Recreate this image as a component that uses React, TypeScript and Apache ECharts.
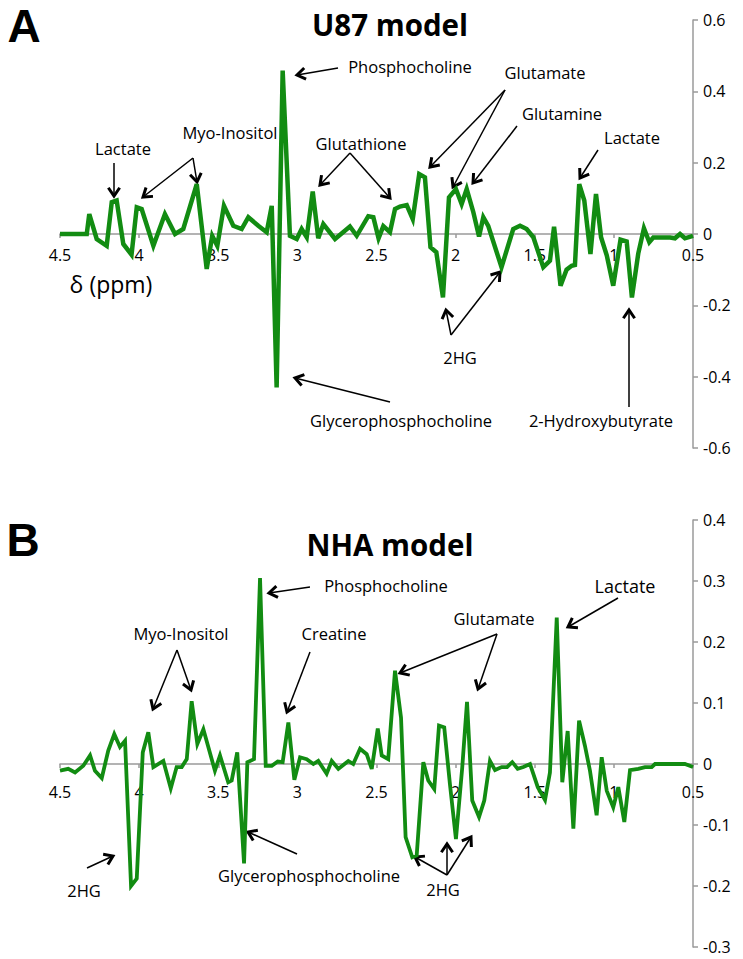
import React, { useEffect, useRef } from "react";
import * as echarts from "echarts";

// ---- Data (chemical shift in ppm, loading values) ----
const ppmA = [4.5,4.331,4.315,4.268,4.205,4.173,4.142,4.1,4.048,4.015,3.984,3.91,3.837,3.773,3.721,3.636,3.573,3.538,3.506,3.464,3.405,3.352,3.31,3.247,3.194,3.162,3.131,3.093,3.047,3.004,2.973,2.941,2.903,2.868,2.836,2.762,2.668,2.625,2.552,2.52,2.487,2.457,2.415,2.383,2.352,2.309,2.271,2.23,2.194,2.159,2.122,2.08,2.042,1.998,1.962,1.93,1.888,1.852,1.825,1.794,1.71,1.636,1.593,1.551,1.509,1.446,1.404,1.378,1.337,1.299,1.267,1.246,1.219,1.187,1.148,1.113,1.081,1.045,1.004,0.958,0.919,0.886,0.846,0.81,0.776,0.751,0.645,0.614,0.582,0.551,0.5];
const u87Values = [0,0,0.056,-0.014,-0.033,0.089,0.094,-0.028,-0.058,0.075,0.07,-0.033,0.056,0,0.014,0.14,-0.098,-0.005,-0.033,0.079,0.023,0.014,0.047,0.023,0.005,0.079,-0.43,0.458,-0.005,-0.014,0.014,-0.009,0.119,-0.012,0.028,-0.014,0.021,-0.005,0.05,0.047,-0.012,0.022,0.005,0.07,0.077,0.081,0.042,0.168,0.159,-0.037,-0.051,-0.178,0.103,0.126,0.084,0.126,0.061,-0.007,0.047,0.023,-0.093,0.014,0.023,0.014,-0.009,-0.093,-0.075,0.02,-0.145,-0.1,-0.089,-0.087,0.14,0.094,-0.056,0.112,-0.009,-0.06,-0.145,-0.016,-0.021,-0.178,-0.055,0.016,-0.023,-0.01,-0.01,-0.012,0,-0.012,-0.005];

const ppmB = [4.5,4.448,4.405,4.353,4.31,4.279,4.236,4.195,4.157,4.121,4.089,4.051,4.015,3.977,3.942,3.91,3.847,3.8,3.763,3.731,3.699,3.668,3.632,3.594,3.521,3.489,3.437,3.415,3.38,3.337,3.316,3.274,3.236,3.2,3.162,3.124,3.093,3.057,3.019,2.983,2.941,2.899,2.868,2.815,2.783,2.741,2.678,2.647,2.604,2.562,2.53,2.492,2.467,2.426,2.383,2.345,2.316,2.274,2.246,2.204,2.173,2.135,2.105,2.072,2.036,1.998,1.958,1.928,1.895,1.852,1.819,1.783,1.751,1.709,1.675,1.642,1.608,1.572,1.53,1.481,1.435,1.404,1.361,1.326,1.292,1.256,1.22,1.183,1.151,1.109,1.077,1.045,1.004,0.972,0.934,0.898,0.846,0.803,0.761,0.74,0.677,0.551,0.5];
const nhaValues = [-0.011,-0.008,-0.014,-0.003,0.014,-0.011,-0.023,0.022,0.049,0.028,0.038,-0.2,-0.188,0.019,0.052,-0.005,0.005,-0.04,-0.005,-0.005,0.008,0.103,0.033,0.057,-0.011,0.014,-0.03,-0.027,0.019,-0.163,0.003,0.008,0.305,-0.003,-0.003,0.004,0.003,0.068,-0.026,0.011,0.008,0,0.005,-0.016,0.005,-0.008,0.005,0,0.025,0.016,-0.008,0.058,0.014,0.008,0.153,0.076,-0.12,-0.153,-0.15,0.003,-0.027,-0.041,0.063,0.06,-0.033,-0.123,-0.005,0.102,-0.06,-0.087,-0.06,0.005,-0.01,-0.005,-0.005,0.003,-0.008,-0.005,0,-0.038,-0.059,-0.014,0.24,-0.03,0.054,-0.106,0.071,0.03,-0.011,-0.084,0.011,-0.044,-0.071,-0.038,-0.095,-0.01,-0.008,-0.005,-0.005,0,0,0,-0.005];

const yRangeA = [-0.6, 0.6, 0.2];
const yRangeB = [-0.3, 0.4, 0.1];
const xRange = [0.5, 4.5, 0.5];

const FONT = '"Open Sans", "DejaVu Sans", sans-serif';
const GREEN = "#128c12";
const GRID_A = { top: 20, height: 428 };
const GRID_B = { top: 520, height: 427 };

function arrow(x1: number, y1: number, x2: number, y2: number) {
  const dx = x2 - x1, dy = y2 - y1;
  const len = Math.hypot(dx, dy);
  const bx = -dx / len, by = -dy / len;
  const L = 10, a = 0.6;
  const c = Math.cos(a), s = Math.sin(a);
  const p1 = [x2 + L * (bx * c - by * s), y2 + L * (bx * s + by * c)];
  const p2 = [x2 + L * (bx * c + by * s), y2 + L * (-bx * s + by * c)];
  return [
    { type: "line", silent: true, shape: { x1, y1, x2, y2 }, style: { stroke: "#000", lineWidth: 1.5 } },
    { type: "polyline", silent: true, shape: { points: [p1, [x2, y2], p2] }, style: { stroke: "#000", lineWidth: 3, fill: null } },
  ];
}

function label(text: string, x: number, y: number, size = 16.5, weight = "normal", family = FONT) {
  return {
    type: "text",
    silent: true,
    x,
    y,
    style: {
      text, fontSize: size, fontWeight: weight, fontFamily: family, fill: "#000",
      align: "center", verticalAlign: "middle",
    },
  };
}

export default function App() {
  const ref = useRef<HTMLDivElement>(null);
  useEffect(() => {
    if (!ref.current) return;
    const chart = echarts.init(ref.current, undefined, { renderer: "svg" });

    // place the x axis on the zero line of each panel
    const zeroOffset = (g: { height: number }, r: number[]) => -g.height * (0 - r[0]) / (r[1] - r[0]);

    const xAxisCommon = {
      type: "value",
      min: xRange[0],
      max: xRange[1],
      interval: xRange[2],
      inverse: true,
      position: "bottom",
      axisLine: { onZero: false, lineStyle: { color: "#9a9a9a", width: 1.5 } },
      axisTick: { show: true, length: 4, lineStyle: { color: "#9a9a9a", width: 1.5 } },
      axisLabel: { color: "#000", fontSize: 16, fontFamily: FONT, margin: 13, showMinLabel: true, showMaxLabel: true },
      splitLine: { show: false },
    };
    const yAxisCommon = {
      type: "value",
      position: "right",
      axisLine: { show: true, onZero: false, lineStyle: { color: "#9a9a9a", width: 1.5 } },
      axisTick: { show: true, length: 5, lineStyle: { color: "#9a9a9a", width: 1.5 } },
      axisLabel: { color: "#000", fontSize: 16, fontFamily: FONT, margin: 10 },
      splitLine: { show: false },
    };

    const graphics: any[] = [
      label("A", 24, 26, 46, "bold", '"Liberation Sans", Arial, sans-serif'),
      label("B", 23, 540, 46, "bold", '"Liberation Sans", Arial, sans-serif'),
      label("U87 model", 390, 24, 29.5, "bold"),
      label("NHA model", 390, 544, 29.5, "bold"),
      label("δ (ppm)", 111, 284, 23),
      // Panel A annotations
      label("Phosphocholine", 410, 66),
      ...arrow(338, 68, 297, 75),
      label("Glutamate", 545, 72),
      ...arrow(505, 90, 430, 167),
      ...arrow(505, 90, 453, 187),
      label("Glutamine", 562, 113),
      ...arrow(517, 126, 473, 183),
      label("Lactate", 632, 137),
      ...arrow(598, 150, 580, 178),
      label("Glutathione", 361, 143),
      ...arrow(350, 153, 320, 185),
      ...arrow(350, 153, 390, 198),
      label("Myo-Inositol", 230, 132),
      ...arrow(193, 158, 143, 197),
      ...arrow(193, 158, 197, 182),
      label("Lactate", 123, 148),
      ...arrow(114, 163, 114, 196),
      label("2HG", 460, 357),
      ...arrow(451, 335, 446, 310),
      ...arrow(451, 335, 500, 272),
      label("Glycerophosphocholine", 401, 420),
      ...arrow(390, 402, 295, 378),
      label("2-Hydroxybutyrate", 601, 420),
      ...arrow(629, 407, 629, 310),
      // Panel B annotations
      label("Phosphocholine", 386, 585),
      ...arrow(310, 587, 269, 593),
      label("Myo-Inositol", 181, 633),
      ...arrow(177, 650, 153, 709),
      ...arrow(177, 650, 191, 690),
      label("Creatine", 334, 633),
      ...arrow(310, 652, 287, 712),
      label("Glutamate", 494, 618),
      ...arrow(497, 634, 400, 673),
      ...arrow(497, 634, 478, 689),
      label("Lactate", 625, 586, 18),
      ...arrow(618, 598, 568, 627),
      label("2HG", 84, 890),
      ...arrow(87, 868, 113, 856),
      label("Glycerophosphocholine", 309, 875),
      ...arrow(297, 854, 248, 832),
      label("2HG", 443, 889),
      ...arrow(447, 875, 415, 857),
      ...arrow(447, 875, 447, 844),
      ...arrow(447, 875, 471, 837),
    ];

    chart.setOption({
      animation: false,
      backgroundColor: "#fff",
      textStyle: { fontFamily: FONT },
      grid: [
        { left: 60, right: 50, top: GRID_A.top, height: GRID_A.height, containLabel: false },
        { left: 60, right: 50, top: GRID_B.top, height: GRID_B.height, containLabel: false },
      ],
      xAxis: [
        { ...xAxisCommon, gridIndex: 0, offset: zeroOffset(GRID_A, yRangeA) },
        { ...xAxisCommon, gridIndex: 1, offset: zeroOffset(GRID_B, yRangeB), axisLabel: { ...xAxisCommon.axisLabel, margin: 20 } },
      ],
      yAxis: [
        { ...yAxisCommon, gridIndex: 0, min: yRangeA[0], max: yRangeA[1], interval: yRangeA[2] },
        { ...yAxisCommon, gridIndex: 1, min: yRangeB[0], max: yRangeB[1], interval: yRangeB[2] },
      ],
      series: [
        {
          name: "U87",
          type: "line",
          xAxisIndex: 0,
          yAxisIndex: 0,
          showSymbol: false,
          data: ppmA.map((p, i) => [p, u87Values[i]]),
          lineStyle: { color: GREEN, width: 4.5, join: "miter" },
          itemStyle: { color: GREEN },
        },
        {
          name: "NHA",
          type: "line",
          xAxisIndex: 1,
          yAxisIndex: 1,
          showSymbol: false,
          data: ppmB.map((p, i) => [p, nhaValues[i]]),
          lineStyle: { color: GREEN, width: 3.8, join: "miter" },
          itemStyle: { color: GREEN },
        },
      ],
      graphic: graphics,
    });
    return () => chart.dispose();
  }, []);
  return <div ref={ref} style={{ position: "absolute", left: 0, top: 0, width: 743, height: 959 }} />;
}
